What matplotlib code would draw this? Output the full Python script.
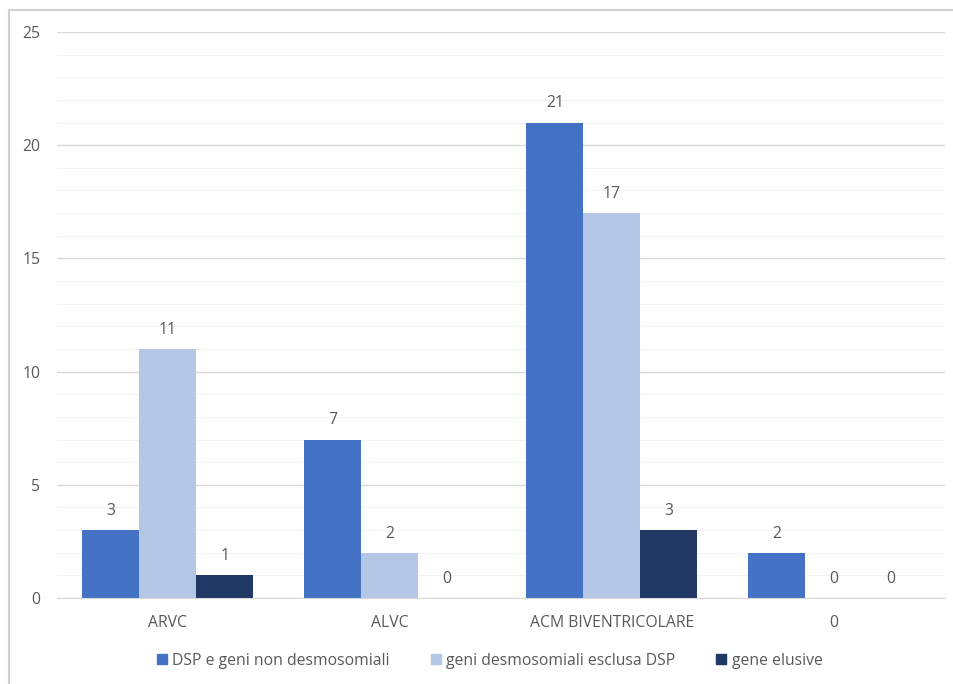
import matplotlib.pyplot as plt
import numpy as np
from matplotlib.lines import Line2D
from matplotlib.ticker import MultipleLocator

categories = ["ARVC", "ALVC", "ACM BIVENTRICOLARE", "0"]
series_names = ["DSP e geni non desmosomiali", "geni desmosomiali esclusa DSP", "gene elusive"]
dsp_non_desmo = [3, 7, 21, 2]
desmo_no_dsp = [11, 2, 17, 0]
gene_elusive = [1, 0, 3, 0]

colors = ["#4472C4", "#B4C7E7", "#203864"]
text_col = "#595959"
fs = 11.3

plt.rcParams['font.family'] = ['Open Sans', 'DejaVu Sans']

fig = plt.figure(figsize=(9.54, 6.84), dpi=100)
ax = fig.add_axes([0.0597, 0.1257, 0.9306, 0.8275])

x = np.arange(len(categories))
width = 0.257
for i, (vals, name) in enumerate(zip([dsp_non_desmo, desmo_no_dsp, gene_elusive], series_names)):
    pos = x + (i - 1) * width
    bars = ax.bar(pos, vals, width, color=colors[i], label=name, zorder=3)
    for b, v in zip(bars, vals):
        ax.annotate(str(v), (b.get_x() + b.get_width() / 2, v), xytext=(0, 8),
                    textcoords="offset points", ha="center", va="bottom",
                    fontsize=fs, color=text_col)

ax.set_xlim(-0.5, len(categories) - 0.5)
ax.set_ylim(0, 25)
ax.yaxis.set_major_locator(MultipleLocator(5))
ax.yaxis.set_minor_locator(MultipleLocator(1))
ax.grid(axis="y", which="major", color="#D9D9D9", linewidth=1, zorder=0)
ax.grid(axis="y", which="minor", color="#F2F2F2", linewidth=0.8, zorder=0)
ax.set_xticks(x)
ax.set_xticklabels(categories)
ax.tick_params(axis="both", which="both", length=0, labelsize=fs, labelcolor=text_col)
ax.tick_params(axis="x", pad=12)
ax.tick_params(axis="y", pad=12)
for s in ["top", "right", "left"]:
    ax.spines[s].set_visible(False)
ax.spines["bottom"].set_color("#D9D9D9")
ax.spines["bottom"].set_zorder(4)

handles = [Line2D([0], [0], marker="s", linestyle="none", markersize=7,
                  markerfacecolor=c, markeredgecolor=c) for c in colors]
fig.legend(handles, series_names, loc="center", bbox_to_anchor=(0.513, 0.034),
           ncol=3, frameon=False, fontsize=fs, labelcolor=text_col,
           handlelength=0.7, handletextpad=0.3, columnspacing=2.6)

# chart frame on the left and top edges
fig.add_artist(Line2D([9 / 954, 9 / 954], [0, 1 - 10 / 684], color="#D0D0D0", linewidth=1.5))
fig.add_artist(Line2D([9 / 954, 1], [1 - 10 / 684, 1 - 10 / 684], color="#D0D0D0", linewidth=1.5))

fig.savefig("out.png", dpi=100)
